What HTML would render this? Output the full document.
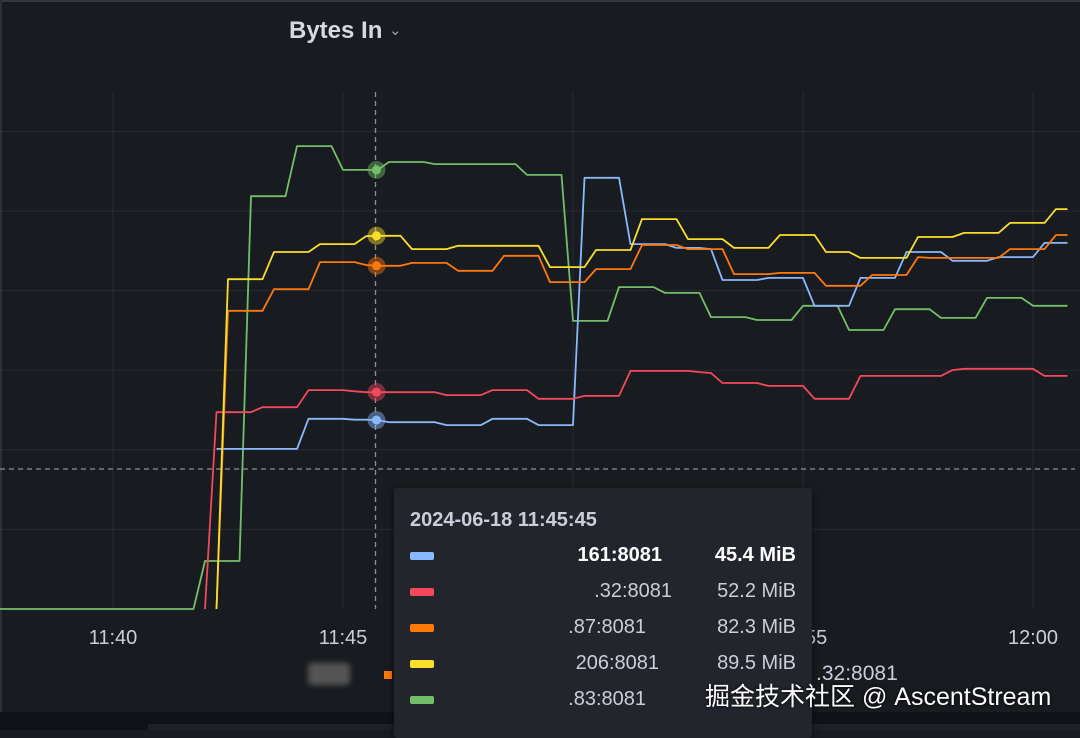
<!DOCTYPE html>
<html><head><meta charset="utf-8">
<style>
html,body{margin:0;padding:0;background:#181b1f;}
body{width:1080px;height:730px;position:relative;overflow:hidden;font-family:"Liberation Sans","Noto Sans CJK SC",sans-serif;}
.abs{position:absolute;}
#tooltip{left:394px;top:488px;width:418px;height:250px;background:#22252b;border-radius:3px;box-shadow:0 2px 8px rgba(0,0,0,.5);}
.tt{position:absolute;font-size:20px;color:#ccccdc;white-space:nowrap;}
.sw{position:absolute;left:16px;width:24px;height:8px;border-radius:2px;}
</style></head>
<body>
<div class="abs" style="left:0;top:0;width:1080px;height:2px;background:#34373d"></div>
<div class="abs" style="left:0;top:0;width:2px;height:712px;background:#2c2f35"></div>
<div class="abs" style="left:289px;top:17px;font-size:24px;font-weight:bold;color:#d8d9e0;">Bytes In <span style="font-size:15px;font-weight:normal;color:#a0a2ab;position:relative;top:-3px;">&#8964;</span></div>
<svg class="abs" style="left:0;top:0" width="1080" height="730" id="chart"></svg>
<div class="abs" style="left:308px;top:663px;width:42px;height:22px;background:#555;border-radius:4px;filter:blur(3px)"></div>
<div class="abs" style="left:384px;top:671px;width:8px;height:8px;background:#ff780a"></div>
<div class="abs" style="left:816px;top:662px;font-size:21px;color:#ccccdc;">.32:8081</div>
<div class="abs" style="left:0;top:712px;width:1080px;height:18px;background:#111217"></div>
<div class="abs" style="left:148px;top:724px;width:932px;height:6px;background:#1d2025"></div>
<div id="tooltip" class="abs">
  <div class="tt" style="left:16px;top:21px;font-weight:bold;color:#ccccdc;">2024-06-18 11:45:45</div>
  <div class="sw" style="top:64px;background:#8ab8ff"></div>
  <div class="tt" style="right:150px;top:56px;font-weight:bold;color:#fff;">161:8081</div>
  <div class="tt" style="right:16px;top:56px;font-weight:bold;color:#fff;">45.4 MiB</div>
  <div class="sw" style="top:100px;background:#f2495c"></div>
  <div class="tt" style="right:140px;top:92px;">.32:8081</div>
  <div class="tt" style="right:16px;top:92px;">52.2 MiB</div>
  <div class="sw" style="top:136px;background:#ff780a"></div>
  <div class="tt" style="right:166px;top:128px;">.87:8081</div>
  <div class="tt" style="right:16px;top:128px;">82.3 MiB</div>
  <div class="sw" style="top:172px;background:#fade2a"></div>
  <div class="tt" style="right:153px;top:164px;">206:8081</div>
  <div class="tt" style="right:16px;top:164px;">89.5 MiB</div>
  <div class="sw" style="top:208px;background:#73bf69"></div>
  <div class="tt" style="right:166px;top:200px;">.83:8081</div>
</div>
<div class="abs" style="left:705px;top:677px;font-size:25px;color:#fff;text-shadow:0 0 3px #000;white-space:nowrap;">掘金技术社区 @ AscentStream</div>
<script>
// sample index k: time = 11:40:00 + 15s*k, k from -10
const startK = -10;
const xTickLabels = ["11:40","11:45","11:50","11:55","12:00"];
const xTickMinutes = [0,5,10,15,20];
const blueVals = [null,null,null,null,null,null,null,null,null,null, null,null,null,null,null,null,null,null,null,38.4, 38.4,38.4,38.4,38.4,38.4,38.4,38.4,45.6,45.6,45.6, 45.6,45.4,45.4,45.3,44.8,44.8,44.8,44.8,44.8,44.1, 44.1,44.1,44.1,45.6,45.6,45.6,45.6,44.1,44.1,44.1, 44.1,103.4,103.4,103.4,103.4,87.5,87.5,87.5,87.5,86.6, 86.6,86.6,86.3,78.9,78.9,78.9,78.9,79.4,79.4,79.4, 79.4,72.7,72.7,72.7,72.7,79.4,79.4,79.4,79.4,85.6, 85.6,85.6,85.6,83.5,83.5,83.5,83.5,84.4,84.4,84.4, 84.4,87.8,87.8,87.8];
const redVals = [null,null,null,null,null,null,null,null,null,null, null,null,null,null,null,null,null,null,0,47.2, 47.2,47.2,47.2,48.4,48.4,48.4,48.4,52.5,52.5,52.5, 52.5,52.2,52.0,52.0,52.0,52.0,52.0,52.0,52.0,51.3, 51.3,51.3,51.3,52.5,52.5,52.5,52.5,50.4,50.4,50.4, 50.4,51.1,51.1,51.1,51.1,57.1,57.1,57.1,57.1,57.1, 57.1,56.8,56.6,54.2,54.2,54.2,54.2,53.5,53.5,53.5, 53.5,50.4,50.4,50.4,50.4,55.9,55.9,55.9,55.9,55.9, 55.9,55.9,55.9,57.3,57.6,57.6,57.6,57.6,57.6,57.6, 57.6,55.9,55.9,55.9];
const orangeVals = [null,null,null,null,null,null,null,null,null,null, null,null,null,null,null,null,null,null,null,0, 71.5,71.5,71.5,71.5,76.7,76.7,76.7,76.7,83.2,83.2, 83.2,83.2,82.5,82.3,82.3,82.3,83.0,83.0,83.0,83.0, 81.1,81.1,81.1,81.1,84.7,84.7,84.7,84.7,78.4,78.4, 78.4,78.4,81.5,81.5,81.5,81.5,87.3,87.3,87.3,87.3, 86.3,86.3,86.3,86.3,80.3,80.3,80.3,80.3,80.6,80.6, 80.6,80.6,77.5,77.5,77.5,77.5,80.1,80.1,80.1,80.1, 84.4,84.2,84.2,84.2,84.2,84.2,84.2,84.2,86.3,86.3, 86.3,86.3,89.7,89.7];
const yellowVals = [null,null,null,null,null,null,null,null,null,null, null,null,null,null,null,null,null,null,null,0, 79.1,79.1,79.1,79.1,85.6,85.6,85.6,85.6,87.5,87.5, 87.5,87.5,89.4,89.5,89.5,89.5,86.3,86.3,86.3,86.3, 87.1,87.1,87.1,87.1,87.1,87.1,87.1,87.1,82.0,82.0, 82.0,82.0,86.1,86.1,86.1,86.1,93.5,93.5,93.5,93.5, 88.7,88.7,88.7,88.7,86.6,86.6,86.6,86.6,89.7,89.7, 89.7,89.7,85.6,85.6,85.6,84.2,84.2,84.2,84.2,84.2, 89.2,89.2,89.2,89.2,90.2,90.2,90.2,90.2,92.6,92.6, 92.6,92.6,95.9,95.9];
const greenVals = [0,0,0,0,0,0,0,0,0,0, 0,0,0,0,0,0,0,0,11.5,11.5, 11.5,11.5,99.0,99.0,99.0,99.0,111.0,111.0,111.0,111.0, 105.3,105.3,105.3,105.3,107.2,107.2,107.2,107.2,106.7,106.7, 106.7,106.7,106.7,106.7,106.7,106.7,104.1,104.1,104.1,104.1, 69.1,69.1,69.1,69.1,77.2,77.2,77.2,77.2,75.8,75.8, 75.8,75.8,70.0,70.0,70.0,70.0,69.3,69.3,69.3,69.3, 72.7,72.7,72.7,72.7,66.9,66.9,66.9,66.9,71.9,71.9, 71.9,71.9,69.8,69.8,69.8,69.8,74.6,74.6,74.6,74.6, 72.7,72.7,72.7,72.7];
const seriesColors = {blue:"#8ab8ff",red:"#f2495c",orange:"#ff780a",yellow:"#fade2a",green:"#73bf69"};
const hoverK = 23; // 11:45:45

const NS="http://www.w3.org/2000/svg";
const svg=document.getElementById('chart');
const plotTop=92, plotBottom=609;
function xMin(m){return 113 + m*46;}
function xK(k){return xMin(k*0.25);}
function yV(v){return 609 - v*4.17;}
function mk(tag,attrs){const e=document.createElementNS(NS,tag);for(const a in attrs)e.setAttribute(a,attrs[a]);svg.appendChild(e);return e;}

for(let i=1;i<=6;i++){
  const y=609-i*79.6;
  const g=mk('line',{x1:0,x2:1080,y1:y,y2:y,stroke:'rgba(204,204,220,0.09)','stroke-width':1});
  
  
}
xTickMinutes.forEach((m,i)=>{
  const x=xMin(m);
  const g=mk('line',{x1:x,x2:x,y1:plotTop,y2:plotBottom,stroke:'rgba(204,204,220,0.09)','stroke-width':1});
  
  
  const t=mk('text',{x:x,y:644,'text-anchor':'middle','font-size':20,fill:'#ccccdc','font-family':'Liberation Sans, sans-serif'});
  t.textContent=xTickLabels[i];
  
  
});
const vx=xK(hoverK)-2;
const ch=mk('line',{x1:vx,x2:vx,y1:plotTop,y2:plotBottom,stroke:'#8e9098','stroke-width':1.3,'stroke-dasharray':'5,4'});


const chh=mk('line',{x1:0,x2:1075,y1:469,y2:469,stroke:'#8e9098','stroke-width':1.3,'stroke-dasharray':'5,4'});



const all=[["green",greenVals],["blue",blueVals],["red",redVals],["orange",orangeVals],["yellow",yellowVals]];
all.forEach(([name,vals])=>{
  let d='';let started=false;
  vals.forEach((v,i)=>{
    if(v===null){return;}
    const k=i+startK;
    d+=(started?'L':'M')+xK(k).toFixed(1)+' '+yV(v).toFixed(1)+' ';
    started=true;
  });
  const p=mk('path',{d:d,fill:'none',stroke:seriesColors[name],'stroke-width':1.8,'stroke-linejoin':'round'});
  
  
});
all.forEach(([name,vals])=>{
  const v=vals[hoverK-startK];
  if(v===null)return;
  const cx=xK(hoverK)-1, cy=yV(v);
  const h=mk('circle',{cx:cx,cy:cy,r:9,fill:seriesColors[name],opacity:0.45});
  
  
  const c=mk('circle',{cx:cx,cy:cy,r:4.5,fill:seriesColors[name]});
  
  
});
</script>
</body></html>
